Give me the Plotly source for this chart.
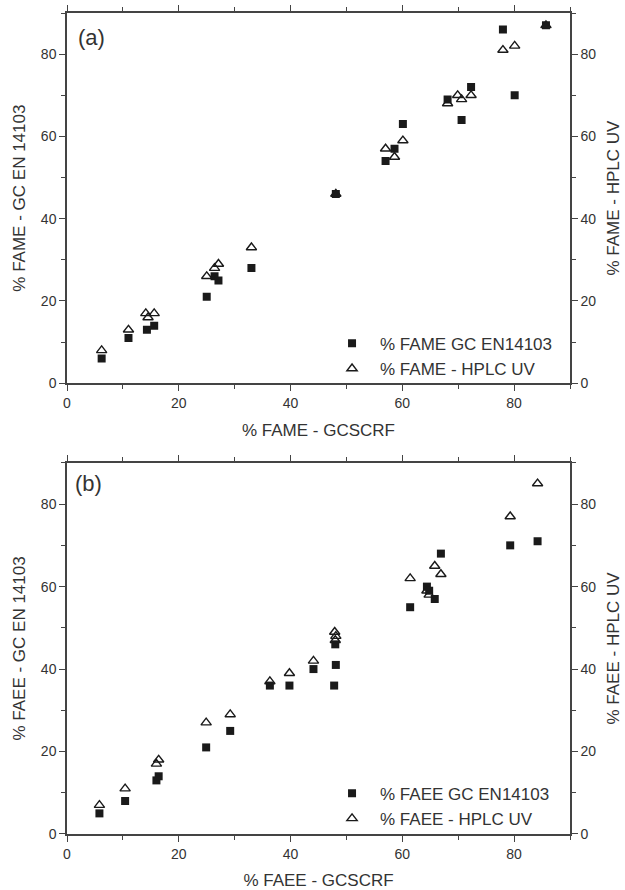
import plotly.graph_objects as go

# Panel (a) data
a_gc_x = [6.2, 11.0, 14.3, 15.6, 25.0, 26.4, 27.1, 33.0, 48.1, 57.0, 58.6, 60.1, 68.1, 70.6, 72.3, 78.0, 80.1, 85.7]
a_gc_y = [6, 11, 13, 14, 21, 26, 25, 28, 46, 54, 57, 63, 69, 64, 72, 86, 70, 87]
a_uv_x = [6.2, 11.0, 14.1, 14.5, 15.6, 25.0, 26.4, 27.1, 33.0, 48.1, 57.0, 58.6, 60.1, 68.1, 69.9, 70.6, 72.3, 78.0, 80.1, 85.7]
a_uv_y = [8, 13, 17, 16, 17, 26, 28, 29, 33, 46, 57, 55, 59, 68, 70, 69, 70, 81, 82, 87]

# Panel (b) data
b_gc_x = [5.8, 10.4, 16.0, 16.4, 24.9, 29.2, 36.3, 39.8, 44.1, 47.8, 48.0, 48.1, 61.4, 64.4, 64.8, 65.8, 66.9, 79.3, 84.2]
b_gc_y = [5, 8, 13, 14, 21, 25, 36, 36, 40, 36, 46, 41, 55, 60, 59, 57, 68, 70, 71]
b_uv_x = [5.8, 10.4, 16.0, 16.4, 24.9, 29.2, 36.3, 39.8, 44.1, 47.9, 48.0, 48.1, 61.4, 64.4, 64.8, 65.8, 66.9, 79.3, 84.2]
b_uv_y = [7, 11, 17, 18, 27, 29, 37, 39, 42, 49, 47, 48, 62, 59, 58, 65, 63, 77, 85]

FONT = "Liberation Sans, Arial, sans-serif"
DARK = "#1a1a1a"
AX = "#444444"
TXT = "#333333"

fig = go.Figure()
fig.add_trace(go.Scatter(x=a_gc_x, y=a_gc_y, mode="markers", name="% FAME GC EN14103",
                         marker=dict(symbol="square", size=8, color=DARK, line=dict(width=0)),
                         xaxis="x", yaxis="y", legend="legend"))
fig.add_trace(go.Scatter(x=a_uv_x, y=a_uv_y, mode="markers", name="% FAME - HPLC UV",
                         marker=dict(symbol="triangle-up-open", size=9, color=DARK, line=dict(width=1.4)),
                         xaxis="x", yaxis="y3", legend="legend"))
fig.add_trace(go.Scatter(x=b_gc_x, y=b_gc_y, mode="markers", name="% FAEE GC EN14103",
                         marker=dict(symbol="square", size=8, color=DARK, line=dict(width=0)),
                         xaxis="x2", yaxis="y2", legend="legend2"))
fig.add_trace(go.Scatter(x=b_uv_x, y=b_uv_y, mode="markers", name="% FAEE - HPLC UV",
                         marker=dict(symbol="triangle-up-open", size=9, color=DARK, line=dict(width=1.4)),
                         xaxis="x2", yaxis="y4", legend="legend2"))

tickfont = dict(family=FONT, size=14, color=TXT)
titlefont = dict(family=FONT, size=17, color=TXT)

def xax(domain_anchor, title):
    return dict(range=[0, 90], tickvals=[0, 20, 40, 60, 80], showline=True, linecolor=AX, linewidth=1.5,
                mirror="ticks", ticks="outside", ticklen=6, tickwidth=1.2, tickcolor=AX,
                minor=dict(dtick=10, tick0=0, ticks="outside", ticklen=4, tickcolor=AX, tickwidth=1.2),
                showgrid=False, zeroline=False, tickfont=tickfont, anchor=domain_anchor, automargin=False,
                title=dict(text=title, font=titlefont, standoff=14))

def yax(domain, title, anchor, standoff=11):
    return dict(range=[0, 90], tickvals=[0, 20, 40, 60, 80], showline=True, linecolor=AX, linewidth=1.5,
                ticks="outside", ticklen=6, tickwidth=1.2, tickcolor=AX,
                minor=dict(dtick=10, tick0=0, ticks="outside", ticklen=4, tickcolor=AX, tickwidth=1.2),
                showgrid=False, zeroline=False, tickfont=tickfont, domain=domain, anchor=anchor,
                automargin=False,
                title=dict(text=title, font=titlefont, standoff=standoff))

def yright(overlay, title, anchor):
    d = yax(None, title, anchor, standoff=12)
    d.pop("domain")
    d.update(side="right", overlaying=overlay)
    return d

dom_a = [0.549, 1.0]
dom_b = [0.0, 0.452]

legfont = dict(family=FONT, size=17, color=TXT)

fig.update_layout(
    width=625, height=890,
    margin=dict(l=67, r=55, t=13, b=56),
    paper_bgcolor="white", plot_bgcolor="white",
    font=dict(family=FONT, color=TXT),
    xaxis=xax("y", "% FAME - GCSCRF"),
    xaxis2=xax("y2", "% FAEE - GCSCRF"),
    yaxis=yax(dom_a, "% FAME - GC EN 14103", "x"),
    yaxis2=yax(dom_b, "% FAEE - GC EN 14103", "x2"),
    yaxis3=yright("y", "% FAME - HPLC UV", "x"),
    yaxis4=yright("y2", "% FAEE - HPLC UV", "x2"),
    legend=dict(x=0.511, y=0.619, xanchor="left", yanchor="top", bgcolor="rgba(0,0,0,0)",
                font=legfont, tracegroupgap=0, itemwidth=46),
    legend2=dict(x=0.511, y=0.071, xanchor="left", yanchor="top", bgcolor="rgba(0,0,0,0)",
                 font=legfont, tracegroupgap=0, itemwidth=46),
    showlegend=True,
    annotations=[
        dict(text="(a)", x=0.018, y=0.9875, xref="paper", yref="paper", xanchor="left", yanchor="top",
             showarrow=False, font=dict(family=FONT, size=22, color=TXT)),
        dict(text="(b)", x=0.012, y=0.444, xref="paper", yref="paper", xanchor="left", yanchor="top",
             showarrow=False, font=dict(family=FONT, size=22, color=TXT)),
    ],
)

fig.write_html("out.html")
